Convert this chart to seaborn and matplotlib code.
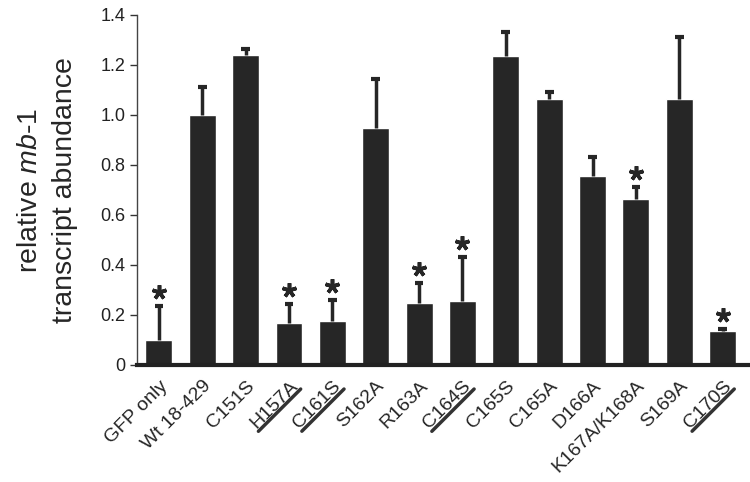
import numpy as np
import pandas as pd
import seaborn as sns
import matplotlib.pyplot as plt
from matplotlib.lines import Line2D

# datos
muestras = ['GFP only', 'Wt 18-429', 'C151S', 'H157A', 'C161S', 'S162A', 'R163A',
            'C164S', 'C165S', 'C165A', 'D166A', 'K167A/K168A', 'S169A', 'C170S']
abundancia = [0.10, 1.00, 1.24, 0.167, 0.177, 0.949, 0.247,
              0.257, 1.237, 1.065, 0.757, 0.665, 1.065, 0.136]
error = [0.135, 0.11, 0.025, 0.076, 0.083, 0.194, 0.082,
         0.174, 0.094, 0.028, 0.076, 0.046, 0.246, 0.007]
significativo = ['GFP only', 'H157A', 'C161S', 'R163A', 'C164S', 'K167A/K168A', 'C170S']
subrayado = ['H157A', 'C161S', 'C164S', 'C170S']

df = pd.DataFrame({'muestra': muestras, 'abundancia': abundancia, 'error': error})
df['tope'] = df['abundancia'] + df['error']

sns.set_style('ticks')
plt.rcParams['font.family'] = ['Liberation Sans', 'DejaVu Sans']
plt.rcParams['mathtext.fontset'] = 'custom'
plt.rcParams['mathtext.it'] = 'Liberation Sans:italic'
plt.rcParams['mathtext.rm'] = 'Liberation Sans'

color = '#262626'
fig = plt.figure(figsize=(7.5, 4.82), dpi=100)
ax = fig.add_axes([0.183, 0.243, 0.814, 0.726])

sns.barplot(data=df, x='muestra', y='abundancia', color=color, width=0.62,
            saturation=1, errorbar=None, ax=ax)
x = np.arange(len(muestras))
# barras de error solo hacia arriba
ax.vlines(x, df['abundancia'], df['tope'], color=color, lw=2.5)
ax.hlines(df['tope'], x - 0.1, x + 0.1, color=color, lw=3)

# asteriscos
sig = df[df['muestra'].isin(significativo)]
ax.plot(sig.index, sig['tope'] + 0.055, ls='none', marker=(5, 2, 0),
        markersize=10.5, mew=2.6, color=color)

ax.set_xlim(-0.5, 13.58)
ax.set_ylim(0, 1.4)
ax.set_yticks([0, 0.2, 0.4, 0.6, 0.8, 1.0, 1.2, 1.4])
ax.set_yticklabels(['0', '0.2', '0.4', '0.6', '0.8', '1.0', '1.2', '1.4'], fontsize=13)
ax.tick_params(axis='y', length=5, width=1, colors='#333333', labelcolor='#222222')
ax.tick_params(axis='x', length=0, pad=9)
ax.set_xticks(x)
ax.set_xticklabels(muestras, rotation=45, ha='right', rotation_mode='anchor', fontsize=14)
ax.set_xlabel('')
ax.set_ylabel('relative $mb$-$1$\ntranscript abundance', fontsize=20.5, linespacing=1.45)
ax.yaxis.set_label_coords(-0.097, 0.5)

sns.despine(ax=ax)
ax.spines['left'].set_linewidth(1)
ax.spines['left'].set_color('#444444')
ax.spines['bottom'].set_linewidth(3)
ax.spines['bottom'].set_color('#222222')

# subrayar etiquetas
fig.canvas.draw()
r = fig.canvas.get_renderer()
for t in ax.get_xticklabels():
    if t.get_text() in subrayado:
        tmp = fig.text(0, 0, t.get_text(), fontsize=t.get_fontsize())
        bb = tmp.get_window_extent(renderer=r)
        tmp.remove()
        w, h = bb.width, bb.height
        ax0, ay0 = t.get_transform().transform(t.get_position())
        ang = np.deg2rad(45)
        pts = []
        for lx in (-w * 1.0, 0):
            ly = -h * 0.97
            pts.append((ax0 + lx * np.cos(ang) - ly * np.sin(ang),
                        ay0 + lx * np.sin(ang) + ly * np.cos(ang)))
        pf = fig.transFigure.inverted().transform(pts)
        fig.add_artist(Line2D(pf[:, 0], pf[:, 1], color='#333333', lw=2.5,
                              transform=fig.transFigure))

fig.savefig('out.png', dpi=100)
